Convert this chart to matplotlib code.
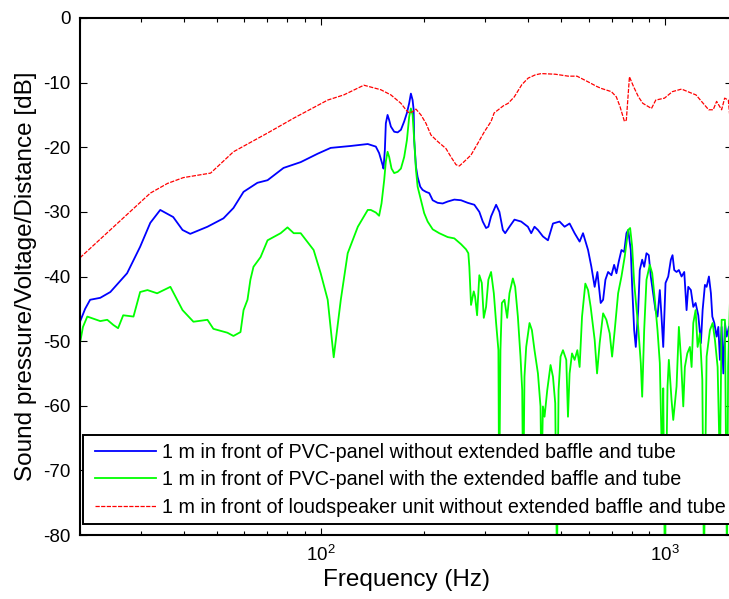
import matplotlib
matplotlib.use("Agg")
import matplotlib.pyplot as plt
from matplotlib.lines import Line2D
from matplotlib.legend_handler import HandlerLine2D
from matplotlib.ticker import LogLocator, NullFormatter, FixedLocator

plt.rcParams['font.family'] = ['Liberation Sans', 'DejaVu Sans']
plt.rcParams['axes.unicode_minus'] = False

# red: loudspeaker unit without baffle
freq_red = [20.0, 32.0, 35.9, 39.9, 47.9, 55.8, 70.1, 83.5, 104.8, 116.7, 133.5, 149.5,
            159.9, 171.0, 176.8, 180.7, 184.9, 189.1, 195.5, 202.2, 209.0, 218.6, 231.1,
            239.0, 247.2, 252.7, 261.3, 273.3, 285.9, 298.8, 312.5, 318.9, 339.0, 350.3,
            365.0, 384.0, 400.5, 420.0, 437.0, 480.0, 523.6, 555.0, 598.9, 634.0, 653.3,
            698.8, 722.0, 740.0, 762.3, 772.0, 788.3, 810.0, 837.2, 862.0, 913.4, 940.0,
            996.6, 1050.0, 1117.0, 1190.0, 1230.0, 1339.0, 1380.0, 1412.0, 1460.0, 1490.0,
            1527.0, 1541.0, 1570.0]
db_red = [-37.1, -27.1, -25.6, -24.7, -24.0, -20.7, -17.8, -15.5, -12.7, -11.9, -10.4, -11.1,
          -11.9, -13.2, -14.2, -14.7, -14.5, -14.1, -15.0, -16.3, -18.1, -19.1, -20.2,
          -21.5, -22.7, -22.9, -22.2, -21.2, -19.4, -17.6, -16.0, -14.7, -13.6, -13.2,
          -12.2, -10.3, -9.3, -8.8, -8.6, -8.7, -9.0, -9.0, -9.9, -10.6, -10.9,
          -11.4, -12.2, -13.7, -16.0, -15.8, -9.1, -10.6, -12.2, -13.2, -14.0, -12.7,
          -12.4, -11.4, -11.0, -11.6, -11.9, -14.2, -14.2, -12.9, -14.2, -12.4,
          -12.7, -15.0, -15.0]

# blue: PVC-panel without extended baffle and tube
freq_blue = [20.0, 20.7, 21.4, 22.9, 24.5, 27.4, 29.9, 32.0, 34.2, 37.3, 39.7, 41.8, 46.9,
             52.2, 55.8, 59.7, 65.5, 70.1, 78.0, 87.5, 98.0, 106.9, 122.3, 137.0, 144.6,
             147.8, 151.2, 152.2, 153.6, 154.6, 156.4, 158.1, 159.9, 163.5, 167.3, 171.0,
             174.8, 178.0, 180.7, 182.8, 184.9, 186.2, 186.9, 189.1, 191.2, 194.6, 197.7,
             202.2, 206.7, 211.5, 218.6, 226.1, 233.8, 244.4, 255.6, 267.3, 279.4, 288.9,
             295.6, 302.2, 306.9, 312.5, 323.2, 330.4, 338.1, 343.4, 353.4, 365.4, 382.2,
             399.7, 408.7, 417.8, 427.5, 442.0, 457.1, 472.7, 494.1, 510.9, 528.3, 546.3,
             564.9, 577.9, 597.7, 611.1, 624.7, 636.2, 650.4, 661.0, 671.3, 683.5, 698.8,
             711.6, 722.6, 733.9, 747.3, 760.9, 772.7, 781.6, 795.3, 802.8, 813.6, 822.4,
             835.7, 844.6, 858.4, 869.9, 883.4, 897.1, 909.2, 923.8, 938.2, 951.0, 965.8,
             976.8, 988.1, 1003.4, 1021.7, 1039.7, 1051.5, 1063.6, 1080.2, 1097.0, 1117.0,
             1137.2, 1155.0, 1168.1, 1188.8, 1208.1, 1226.9, 1249.1, 1271.2, 1285.8, 1305.8,
             1320.6, 1341.2, 1359.2, 1372.0, 1390.5, 1412.1, 1428.4, 1443.6, 1460.0, 1476.9,
             1492.9, 1510.0, 1533.5, 1570.0]
db_blue = [-47.0, -45.0, -43.6, -43.3, -42.4, -39.5, -35.4, -31.7, -29.7, -30.8, -32.8, -33.4, -32.3,
           -31.0, -29.4, -26.9, -25.5, -25.1, -23.2, -22.3, -21.0, -20.1, -19.8, -19.5, -19.9,
           -20.9, -22.7, -23.3, -20.4, -16.3, -15.0, -15.8, -16.8, -17.6, -17.7, -17.3,
           -16.0, -14.7, -13.2, -11.7, -12.7, -14.2, -18.9, -23.0, -24.6, -26.1, -26.6,
           -26.9, -27.1, -28.2, -28.6, -28.7, -28.4, -28.1, -28.2, -28.6, -28.9, -30.0,
           -31.5, -32.5, -32.3, -30.7, -28.9, -30.0, -32.8, -33.3, -32.3, -31.2, -31.5,
           -32.3, -33.3, -32.3, -32.8, -33.8, -34.4, -31.8, -31.5, -32.3, -31.8, -33.3,
           -34.6, -33.3, -35.9, -38.5, -41.6, -39.3, -44.1, -43.6, -40.5, -39.3, -39.8,
           -38.2, -39.5, -37.7, -35.9, -36.2, -33.3, -32.8, -35.9, -41.6, -48.3, -50.9,
           -45.2, -39.0, -37.4, -38.5, -36.4, -36.7, -40.0, -42.6, -45.2, -46.2, -42.1,
           -46.2, -50.9, -41.0, -40.0, -37.4, -36.7, -39.0, -39.3, -39.0, -40.0,
           -39.3, -45.2, -41.6, -42.1, -44.7, -44.1, -46.0, -50.3, -45.2, -41.3,
           -41.6, -40.0, -42.6, -46.2, -47.2, -49.3, -47.8, -52.9, -47.8, -55.0,
           -47.2, -49.3, -47.8, -47.5]

# green: PVC-panel with the extended baffle and tube
freq_green = [20.0, 20.4, 21.0, 22.9, 24.0, 25.0, 25.8, 26.7, 28.6, 29.9, 31.4, 33.5, 36.6,
              39.7, 42.7, 46.9, 48.8, 53.6, 55.8, 58.5, 59.7, 61.3, 62.5, 63.8, 66.9, 70.1,
              76.5, 80.1, 83.5, 87.5, 95.4, 100.0, 104.8, 109.1, 114.4, 119.8, 128.2, 137.0,
              139.8, 144.6, 147.8, 150.2, 152.9, 154.6, 156.4, 158.1, 160.6, 163.5, 167.3,
              171.0, 174.8, 178.0, 180.7, 182.8, 184.9, 186.9, 189.1, 191.2, 195.5, 199.8,
              204.5, 211.5, 221.0, 233.8, 244.4, 255.6, 264.3, 268.4, 270.2, 273.3, 278.3,
              280.8, 284.6, 288.9, 293.7, 297.6, 302.2, 306.9, 312.5, 318.3, 323.2, 328.2,
              329.8, 332.7, 335.9, 341.7, 348.0, 353.4, 361.5, 367.1, 373.8, 380.4, 384.8,
              387.4, 390.7, 395.2, 404.1, 410.6, 417.8, 427.5, 434.9, 437.8, 442.0, 446.8,
              454.9, 465.1, 472.7, 479.9, 485.5, 490.7, 497.3, 505.4, 516.7, 522.6, 528.3,
              536.9, 546.3, 556.4, 564.9, 574.1, 586.9, 597.7, 608.2, 624.7, 634.8, 646.0,
              661.0, 675.6, 690.7, 702.0, 714.4, 730.8, 747.3, 763.8, 781.6, 791.9, 802.8,
              813.6, 835.7, 850.4, 858.4, 869.9, 883.4, 903.2, 917.9, 934.0, 951.0, 965.8,
              981.3, 988.1, 998.6, 1016.9, 1025.9, 1044.5, 1056.6, 1080.2, 1097.0, 1111.8,
              1129.8, 1141.9, 1160.5, 1181.0, 1194.5, 1208.1, 1226.9, 1243.4, 1262.7, 1283.2,
              1297.2, 1320.6, 1350.1, 1374.8, 1396.2, 1421.5, 1443.6, 1460.0, 1492.9, 1513.2,
              1525.0, 1544.2, 1570.0]
db_green = [-50.3, -47.8, -46.2, -46.9, -46.7, -47.5, -48.0, -46.0, -46.2, -42.4, -42.1, -42.6, -41.6,
            -45.2, -47.0, -46.7, -48.1, -48.7, -49.2, -48.6, -45.2, -43.6, -40.5, -38.5, -37.0, -34.4,
            -33.3, -32.4, -33.3, -33.3, -35.9, -39.5, -43.6, -52.5, -43.6, -36.4, -32.3, -29.7,
            -29.7, -30.1, -30.6, -28.7, -25.1, -22.2, -20.7, -21.5, -23.3, -24.0, -23.8,
            -23.3, -21.5, -18.9, -15.3, -14.0, -15.0, -18.9, -23.5, -26.1, -28.2, -30.2,
            -31.5, -32.7, -33.3, -33.9, -34.1, -35.0, -35.8, -36.4, -38.5, -44.4, -42.3,
            -43.1, -46.0, -39.8, -41.0, -46.4, -44.7, -40.5, -39.3, -42.6, -47.2, -51.4,
            -75.0, -51.4, -44.1, -43.6, -46.4, -42.6, -40.3, -41.6, -46.2, -52.4, -57.6,
            -75.0, -55.5, -50.9, -47.2, -48.3, -51.4, -55.0, -60.1, -72.0, -60.1, -61.7,
            -57.6, -53.7, -55.5, -59.6, -85.0, -57.6, -52.4, -51.4, -52.9, -61.7, -55.0,
            -51.9, -52.9, -51.4, -54.0, -46.2, -41.1, -42.1, -44.7, -49.8, -55.0, -50.3,
            -45.7, -46.7, -48.8, -52.4, -48.3, -42.6, -40.0, -36.9, -32.8, -32.5, -35.4,
            -41.0, -47.8, -53.4, -58.6, -48.3, -40.5, -38.2, -39.5, -43.6, -48.3, -53.4,
            -70.0, -57.3, -85.0, -57.0, -52.9, -59.1, -62.2, -57.0, -47.8, -52.4,
            -60.1, -54.0, -51.9, -50.9, -54.0, -47.2, -45.2, -50.9, -48.8, -56.0,
            -85.0, -52.4, -48.3, -47.2, -49.8, -54.0, -70.0, -46.7, -46.7, -85.0,
            -54.0, -43.6, -45.0]

labels = ["1 m in front of PVC-panel without extended baffle and tube",
          "1 m in front of PVC-panel with the extended baffle and tube",
          "1 m in front of loudspeaker unit without extended baffle and tube"]

fig = plt.figure(figsize=(7.29, 5.99), dpi=100)
# right spine sits just outside the picture, as in the original
ax = fig.add_axes([80 / 729, 64 / 599, 652 / 729, 517 / 599])

ax.plot(freq_blue, db_blue, color="#0000ff", lw=1.3, label=labels[0])
ax.plot(freq_green, db_green, color="#00ff00", lw=1.3, label=labels[1])
ax.plot(freq_red, db_red, color="#ff0000", lw=0.9, ls=(0, (3.4, 1.1)), label=labels[2])

ax.set_xscale("log")
ax.set_xlim(20, 1565)
ax.set_ylim(-80, 0)
ax.yaxis.set_major_locator(FixedLocator(range(-80, 1, 10)))
ax.xaxis.set_major_locator(LogLocator(base=10))
ax.xaxis.set_minor_locator(LogLocator(base=10, subs=range(2, 10)))
ax.xaxis.set_minor_formatter(NullFormatter())

for s in ax.spines.values():
    s.set_linewidth(1.5)
ax.tick_params(which="both", direction="in", top=True, right=True, labelsize=13.5, width=0.8)
ax.tick_params(which="major", length=5, pad=7)
ax.tick_params(which="minor", length=3)

ax.set_xlabel("Frequency (Hz)", fontsize=17.5, labelpad=3)
ax.set_ylabel("Sound pressure/Voltage/Distance [dB]", fontsize=17.5, labelpad=4)

leg = ax.legend(loc="lower left", bbox_to_anchor=(3 / 652, 11 / 517), borderaxespad=0,
                fontsize=14.2, handlelength=3.36, handletextpad=0.3, labelspacing=0.44,
                borderpad=0.36, fancybox=False, framealpha=1, edgecolor="black",
                handler_map={Line2D: HandlerLine2D(xpad=0.25)})
leg.get_frame().set_linewidth(1.4)

fig.savefig("out.png", dpi=100)
